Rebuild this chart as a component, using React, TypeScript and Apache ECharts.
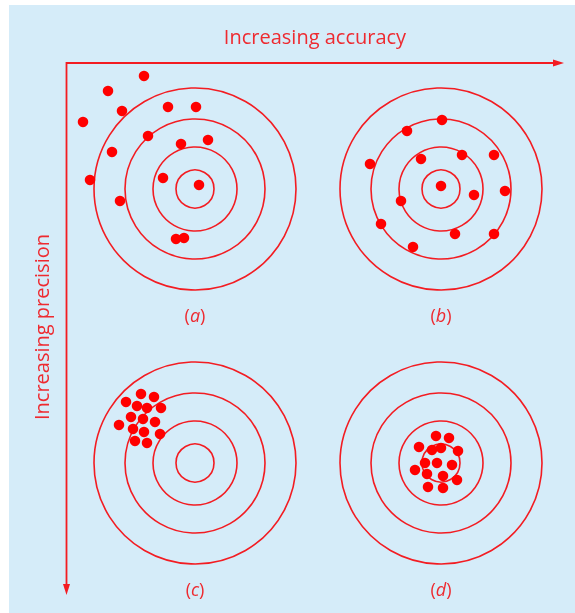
import React, { useEffect, useRef } from "react";
import * as echarts from "echarts";

// Target centres (pixels) and ring radii (in target units, 1 unit = 1 px)
const TARGET_LABELS = ["a", "b", "c", "d"];
const RING_RADII = [19, 42, 70, 101];

// Dot offsets from each target centre: [dx, dy] (dy positive = downward)
const DOTS_A = [
  [-51, -113], [-87, -98], [-73, -78], [-112, -67], [-27, -82], [1, -82],
  [-47, -53], [-14, -45], [13, -49], [-83, -37], [-105, -9], [-32, -11],
  [4, -4], [-75, 12], [-19, 50], [-11, 49],
];
const DOTS_B = [
  [1, -69], [-34, -58], [-71, -25], [-20, -30], [21, -34], [53, -34],
  [0, -3], [33, 6], [64, 2], [-40, 12], [-60, 35], [14, 45], [53, 45], [-28, 58],
];
const DOTS_C = [
  [-54, -69], [-41, -66], [-69, -61], [-58, -57], [-48, -55], [-34, -55],
  [-64, -46], [-52, -44], [-40, -41], [-76, -38], [-62, -34], [-51, -31],
  [-35, -29], [-60, -22], [-48, -20],
];
const DOTS_D = [
  [-5, -27], [8, -25], [-22, -16], [-9, -13], [0, -15], [17, -12],
  [-16, 0], [-4, 0], [11, 2], [-26, 7], [-14, 11], [2, 13], [16, 17],
  [-13, 24], [2, 25],
];
const ALL_DOTS = [DOTS_A, DOTS_B, DOTS_C, DOTS_D];

const AXIS_TITLE_X = "Increasing accuracy";
const AXIS_TITLE_Y = "Increasing precision";

const CENTERS = [
  [195, 189],
  [441, 189],
  [195, 463],
  [441, 463],
];
const HALF = 115;
const RED_DOT = "#ff0000";
const RED_LINE = "#f31c22";
const RED_TEXT = "#ee2a30";
const BG = "#d5ecf9";
const FONT = "'Open Sans', 'Noto Sans', sans-serif";

export default function App() {
  const ref = useRef<HTMLDivElement>(null);
  useEffect(() => {
    if (!ref.current) return;
    const chart = echarts.init(ref.current, null, { renderer: "svg" });

    const grids = CENTERS.map(([cx, cy]) => ({
      left: cx - HALF,
      top: cy - HALF,
      width: HALF * 2,
      height: HALF * 2,
      containLabel: false,
    }));
    const xAxes = CENTERS.map((_, i) => ({
      type: "value",
      gridIndex: i,
      min: -HALF,
      max: HALF,
      show: false,
    }));
    const yAxes = CENTERS.map((_, i) => ({
      type: "value",
      gridIndex: i,
      min: -HALF,
      max: HALF,
      inverse: true,
      show: false,
    }));

    const series: any[] = [];
    CENTERS.forEach((_, i) => {
      series.push({
        type: "custom",
        xAxisIndex: i,
        yAxisIndex: i,
        clip: false,
        z: 1,
        silent: true,
        data: RING_RADII.map((r) => [0, 0, r]),
        renderItem: (params: any, api: any) => {
          const c = api.coord([api.value(0), api.value(1)]);
          const s = api.size([api.value(2), 0]);
          return {
            type: "circle",
            shape: { cx: c[0], cy: c[1], r: s[0] },
            style: { fill: "none", stroke: RED_LINE, lineWidth: 1.6 },
          };
        },
      });
      series.push({
        type: "scatter",
        xAxisIndex: i,
        yAxisIndex: i,
        z: 2,
        symbol: "circle",
        symbolSize: 10.5,
        itemStyle: { color: RED_DOT, opacity: 1 },
        data: ALL_DOTS[i],
      });
    });

    const labels = CENTERS.map(([cx, cy], i) => ({
      type: "text",
      x: cx,
      y: cy + (i < 2 ? 126 : 126),
      style: {
        text: `{p|(}{l|${TARGET_LABELS[i]}}{p|)}`,
        align: "center",
        verticalAlign: "middle",
        rich: {
          p: { fontSize: 18, fontFamily: FONT, fill: RED_TEXT },
          l: { fontSize: 18, fontFamily: FONT, fontStyle: "italic", fill: RED_TEXT },
        },
      },
    }));

    chart.setOption({
      animation: false,
      grid: grids,
      xAxis: xAxes,
      yAxis: yAxes,
      series,
      graphic: [
        {
          type: "rect",
          z: -10,
          silent: true,
          shape: { x: 9, y: 5, width: 566, height: 608 },
          style: { fill: BG },
        },
        {
          type: "polyline",
          shape: { points: [[556, 63], [66.5, 63], [66.5, 588]] },
          style: { stroke: RED_LINE, lineWidth: 1.8, fill: "none" },
        },
        {
          type: "polygon",
          shape: { points: [[564, 63], [553, 59.5], [553, 66.5]] },
          style: { fill: RED_LINE },
        },
        {
          type: "polygon",
          shape: { points: [[66.5, 595], [63, 584], [70, 584]] },
          style: { fill: RED_LINE },
        },
        {
          type: "text",
          x: 315,
          y: 36,
          style: {
            text: AXIS_TITLE_X,
            align: "center",
            verticalAlign: "middle",
            fontSize: 20,
            fontFamily: FONT,
            fill: RED_TEXT,
          },
        },
        {
          type: "text",
          x: 41,
          y: 327,
          rotation: Math.PI / 2,
          style: {
            text: AXIS_TITLE_Y,
            align: "center",
            verticalAlign: "middle",
            fontSize: 20,
            fontFamily: FONT,
            fill: RED_TEXT,
          },
        },
        ...labels,
      ],
    });
    return () => chart.dispose();
  }, []);
  return (
    <div
      ref={ref}
      style={{ position: "fixed", left: 0, top: 0, width: 575, height: 613 }}
    />
  );
}
